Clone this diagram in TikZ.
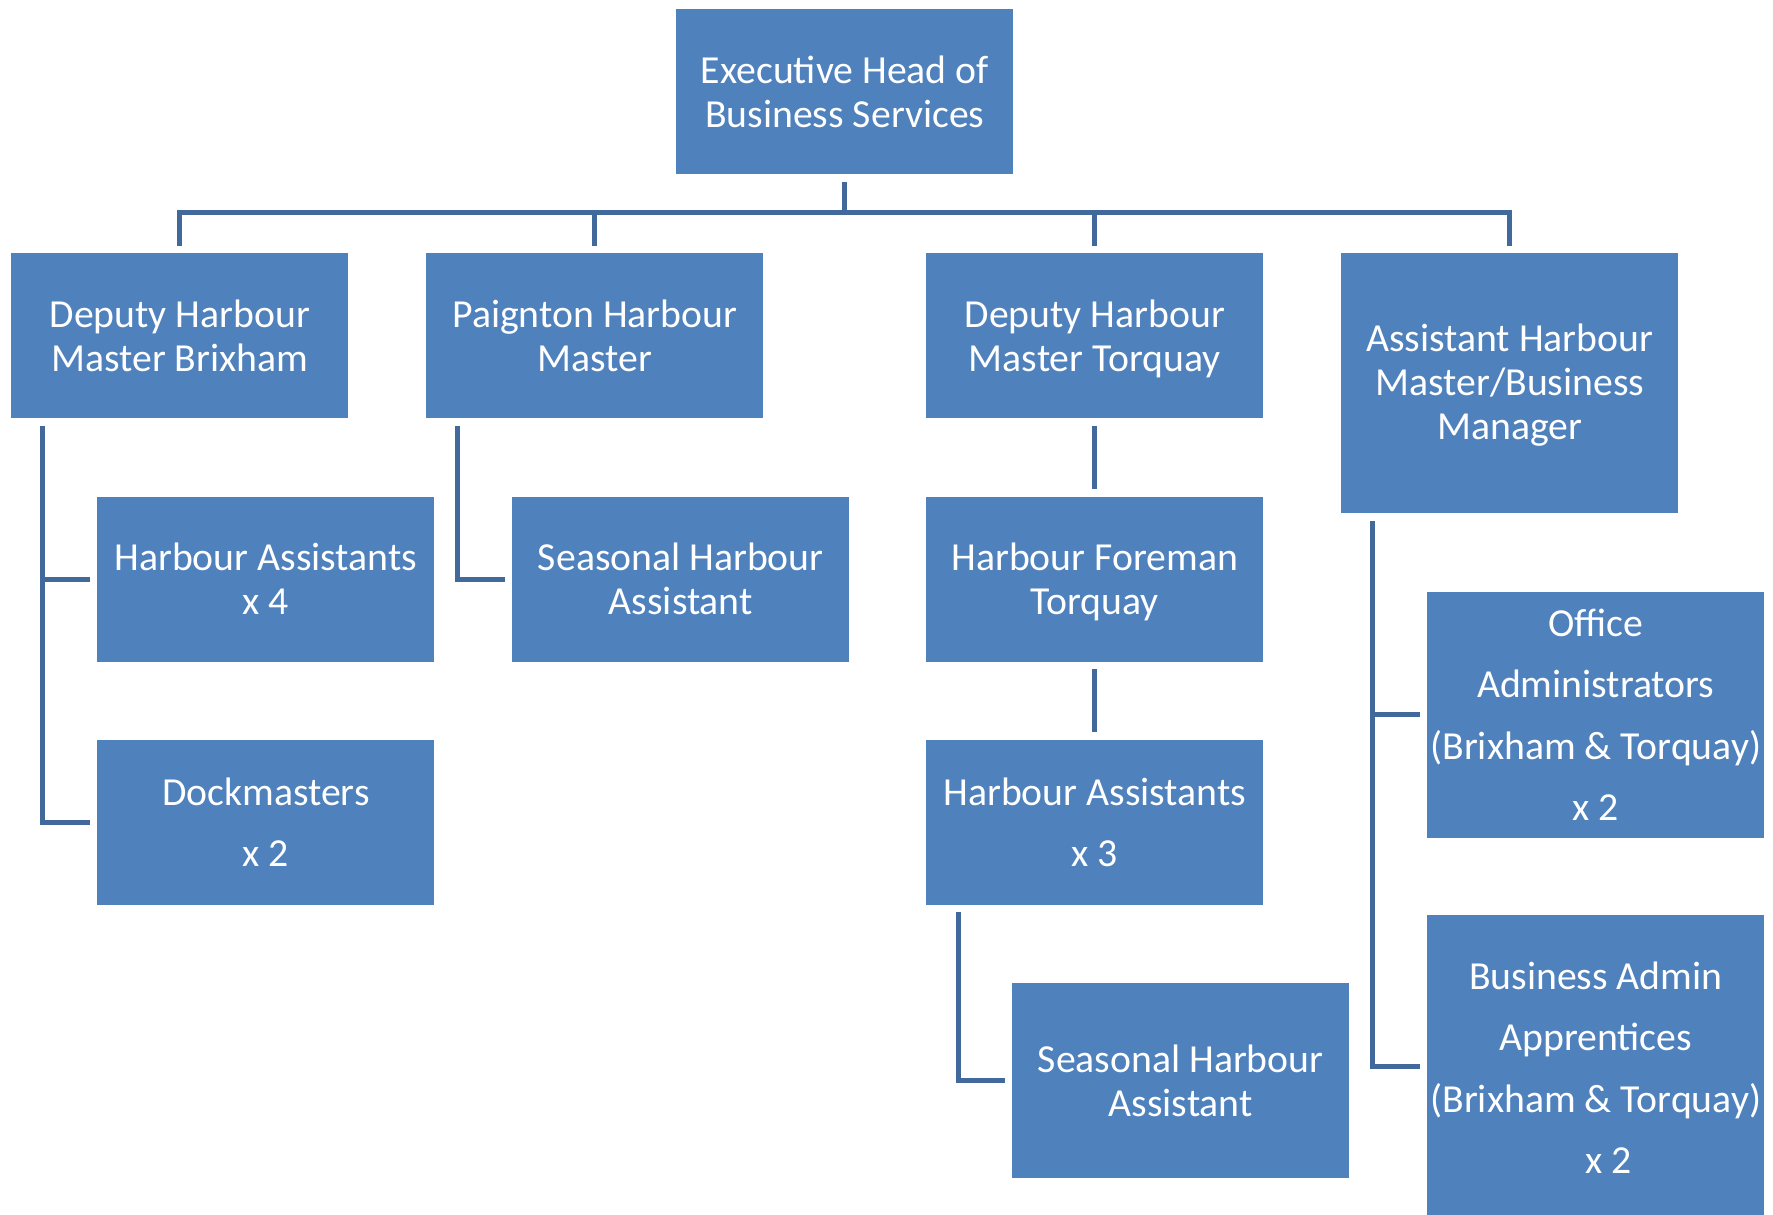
\documentclass[tikz,border=0pt]{standalone}
\usepackage{fontspec}
\setmainfont{Carlito}
\usetikzlibrary{calc}
\definecolor{boxblue}{HTML}{4F81BD}
\definecolor{linecol}{HTML}{41699B}
\newcommand\lnstrut{\vphantom{y}}
\newcommand\topstrut{\rule{0pt}{0.85em}}
\tikzset{
  orgbox/.style={rectangle, fill=boxblue, text=white, inner sep=0pt, align=center,
    minimum width=3.369cm, minimum height=1.650cm,
    font=\fontsize{11.3}{12.5}\selectfont},
  widespace/.style={font=\fontsize{11.3}{17.5}\selectfont},
  conn/.style={draw=linecol, line width=1.4pt}
}
\begin{document}
\begin{tikzpicture}[x=0.011306cm, y=-0.0113cm]
\useasboundingbox (0,0) rectangle (1567.7,1074);
\coordinate (bus) at (0,188);
% boxes
\node[orgbox] (top) at (747,81) {\topstrut Executive Head of\\Business Services\lnstrut};
\node[orgbox] (dbx) at (159,297) {\topstrut Deputy Harbour\\Master Brixham\lnstrut};
\node[orgbox] (pgn) at (526,297) {\topstrut Paignton Harbour\\Master\lnstrut};
\node[orgbox] (dtq) at (968,297) {\topstrut Deputy Harbour\\Master Torquay\lnstrut};
\node[orgbox, minimum height=2.599cm] (ahm) at (1335,339) {\rule{0pt}{0.78em}Assistant Harbour\\Master/Business\\Manager\lnstrut};
\node[orgbox] (ha4) at (235,512) {\topstrut Harbour Assistants\\x 4\lnstrut};
\node[orgbox, widespace] (dock) at (235,727) {\topstrut Dockmasters\\x 2\lnstrut};
\node[orgbox] (sha1) at (602,512) {\topstrut Seasonal Harbour\\Assistant\lnstrut};
\node[orgbox] (hft) at (968,512) {\topstrut Harbour Foreman\\Torquay\lnstrut};
\node[orgbox, widespace] (ha3) at (968,727) {\topstrut Harbour Assistants\\x 3\lnstrut};
\node[orgbox, minimum height=1.955cm] (sha2) at (1044,955.5) {\topstrut Seasonal Harbour\\Assistant\lnstrut};
\node[orgbox, widespace, minimum height=2.463cm] (office) at (1411,632) {\topstrut Office\\Administrators\\(Brixham \& Torquay)\\x 2\lnstrut};
\node[orgbox, widespace, minimum height=3.051cm] (biz) at (1411,944) {\topstrut Business Admin\\Apprentices\\(Brixham \& Torquay)\\\hspace*{0.65em}x 2\lnstrut};
% top level connectors
\draw[conn] ($(top.south)+(0,6)$) -- (top.south |- bus);
\draw[conn] ($(dbx.north)+(0,-6)$) -- (dbx.north |- bus) -- (ahm.north |- bus) -- ($(ahm.north)+(0,-6)$);
\draw[conn] ($(pgn.north)+(0,-6)$) -- (pgn.north |- bus);
\draw[conn] ($(dtq.north)+(0,-6)$) -- (dtq.north |- bus);
% Brixham branch
\coordinate (bxs) at ($(dbx.south west)+(28,6)$);
\draw[conn] (bxs) |- ($(dock.west)+(-6,0)$);
\draw[conn] (bxs |- ha4.west) -- ($(ha4.west)+(-6,0)$);
% Paignton branch
\draw[conn] ($(pgn.south west)+(28,6)$) |- ($(sha1.west)+(-6,0)$);
% Torquay branch
\draw[conn] ($(dtq.south)+(0,6)$) -- ($(hft.north)+(0,-6)$);
\draw[conn] ($(hft.south)+(0,6)$) -- ($(ha3.north)+(0,-6)$);
\draw[conn] ($(ha3.south west)+(29,6)$) |- ($(sha2.west)+(-6,0)$);
% Assistant HM branch
\coordinate (ahs) at ($(ahm.south west)+(28,6)$);
\draw[conn] (ahs) |- ($(biz.west)+(-6,-1)$);
\draw[conn] (ahs |- office.west) -- ($(office.west)+(-6,0)$);
\end{tikzpicture}
\end{document}
